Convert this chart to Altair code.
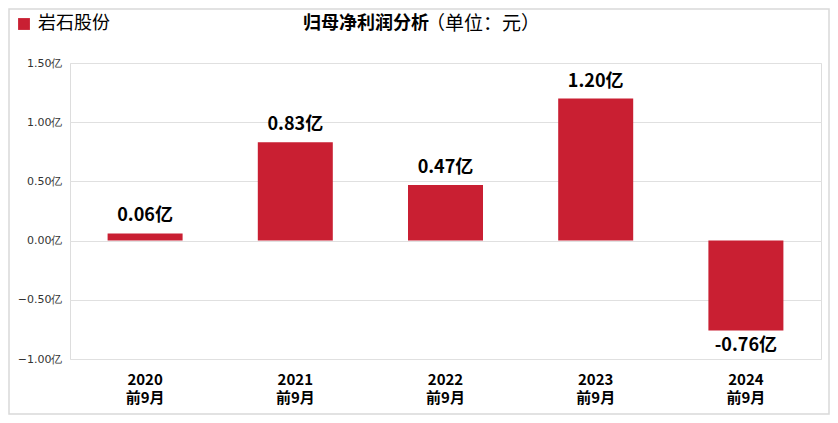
import altair as alt
import pandas as pd

periods = ["2020\n前9月", "2021\n前9月", "2022\n前9月", "2023\n前9月", "2024\n前9月"]
values = [0.06, 0.83, 0.47, 1.20, -0.76]
series_name = "岩石股份"
y_ticks = [-1.0, -0.5, 0.0, 0.5, 1.0, 1.5]

RED = "#C91F32"
FONT = "Noto Sans CJK SC"

df = pd.DataFrame({
    "period": periods,
    "value": values,
    "label": [f"{v:.2f}亿" for v in values],
    "series": [series_name] * len(values),
})

x_enc = alt.X(
    "period:N",
    sort=periods,
    scale=alt.Scale(paddingInner=0.5, paddingOuter=0.25),
    axis=alt.Axis(
        title=None,
        labelAngle=0,
        labelExpr="split(datum.label, '\\n')",
        labelFont=FONT,
        labelFontSize=15,
        labelFontWeight="bold",
        labelColor="#000000",
        labelLineHeight=18,
        labelPadding=13,
        ticks=False,
        domain=False,
        grid=False,
    ),
)

y_enc = alt.Y(
    "value:Q",
    scale=alt.Scale(domain=[-1.0, 1.5], nice=False, zero=False),
    axis=alt.Axis(
        title=None,
        values=y_ticks,
        labelExpr="format(datum.value, '.2f') + '亿'",
        labelFont="DejaVu Sans",
        labelFontSize=11,
        labelColor="#333333",
        labelPadding=8,
        ticks=False,
        domain=False,
        grid=True,
        gridColor="#E0E0E0",
        gridWidth=1,
    ),
)

base = alt.Chart(df)

bars = base.mark_bar(size=75).encode(
    x=x_enc,
    y=y_enc,
    color=alt.Color(
        "series:N",
        scale=alt.Scale(range=[RED]),
        legend=alt.Legend(
            orient="none",
            legendX=-55,
            legendY=-48,
            title=None,
            symbolType="square",
            symbolSize=140,
            symbolStrokeWidth=0,
            labelFont=FONT,
            labelFontSize=18,
            labelColor="#000000",
            labelOffset=5,
        ),
    ),
)

pos_labels = base.transform_filter("datum.value >= 0").mark_text(
    font=FONT, fontSize=18, fontWeight="bold", baseline="bottom", dy=-8, color="#000000"
).encode(x=alt.X("period:N", sort=periods), y="value:Q", text="label:N")

neg_labels = base.transform_filter("datum.value < 0").mark_text(
    font=FONT, fontSize=18, fontWeight="bold", baseline="top", dy=6, color="#000000"
).encode(x=alt.X("period:N", sort=periods), y="value:Q", text="label:N")

title_df = pd.DataFrame({"bold": ["归母净利润分析"], "unit": ["（单位：元）"]})
title_bold = alt.Chart(title_df).mark_text(
    font=FONT, fontSize=18, fontWeight="bold", align="right", baseline="middle", color="#000000"
).encode(x=alt.value(359), y=alt.value(-39), text="bold:N")
title_unit = alt.Chart(title_df).mark_text(
    font=FONT, fontSize=19, align="left", baseline="middle", color="#000000"
).encode(x=alt.value(356), y=alt.value(-39), text="unit:N")

frame = alt.Chart(title_df).mark_rect(
    fill=None, stroke="#D9D9D9", strokeWidth=1.5
).encode(x=alt.value(-61), x2=alt.value(759), y=alt.value(-54), y2=alt.value(351))

chart = alt.layer(frame, bars, pos_labels, neg_labels, title_bold, title_unit).properties(
    width=751,
    height=296,
    padding={"left": 62, "top": 55, "right": 9, "bottom": 56},
    autosize="none",
).configure_view(stroke=None).configure(background="#FFFFFF")

chart.save("out.html", embed_options={"renderer": "svg", "actions": False})
